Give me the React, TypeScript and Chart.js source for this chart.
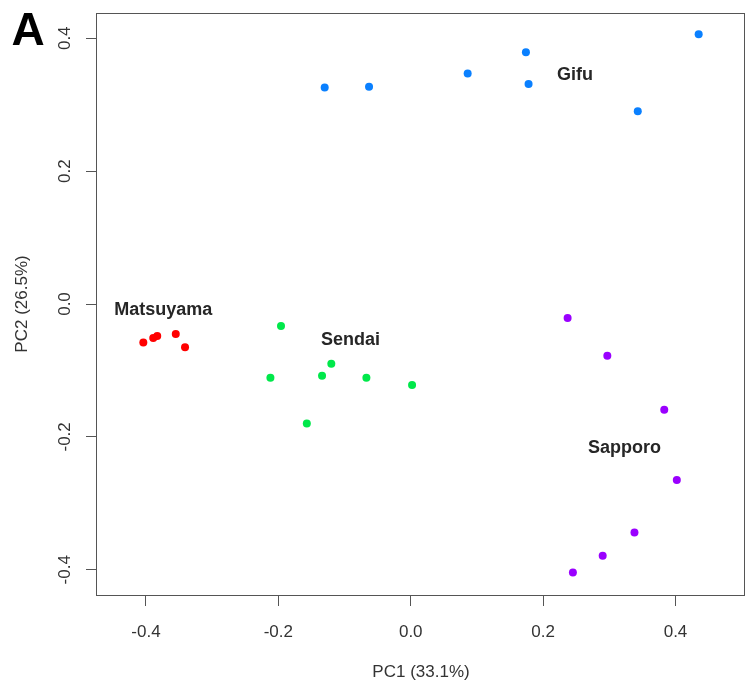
import { useEffect, useRef } from "react";
import { Chart, registerables } from "chart.js";

Chart.register(...registerables);

const groupNames = ["Gifu", "Matsuyama", "Sendai", "Sapporo"];
const groupColors = ["#0a80ff", "#ff0000", "#00e84a", "#9a00ff"];

const gifuX = [-0.130, -0.063, 0.086, 0.174, 0.178, 0.343, 0.435];
const gifuY = [0.326, 0.327, 0.347, 0.379, 0.331, 0.290, 0.406];
const matsuyamaX = [-0.404, -0.389, -0.383, -0.355, -0.341];
const matsuyamaY = [-0.058, -0.051, -0.048, -0.045, -0.065];
const sendaiX = [-0.196, -0.212, -0.157, -0.134, -0.120, -0.067, 0.002];
const sendaiY = [-0.033, -0.111, -0.180, -0.108, -0.090, -0.111, -0.122];
const sapporoX = [0.237, 0.297, 0.383, 0.402, 0.338, 0.290, 0.245];
const sapporoY = [-0.021, -0.078, -0.159, -0.265, -0.344, -0.379, -0.404];

const labelX = [0.248, -0.374, -0.091, 0.323];
const labelY = [0.345, -0.009, -0.054, -0.217];

const xTicks = [-0.4, -0.2, 0.0, 0.2, 0.4];
const yTicks = [-0.4, -0.2, 0.0, 0.2, 0.4];

const xTitle = "PC1 (33.1%)";
const yTitle = "PC2 (26.5%)";
const panelLetter = "A";

const FONT = "'Liberation Sans', Arial, sans-serif";

const seriesX = [gifuX, matsuyamaX, sendaiX, sapporoX];
const seriesY = [gifuY, matsuyamaY, sendaiY, sapporoY];

const boxPlugin = {
  id: "boxAndLabels",
  afterDraw(chart: any) {
    const { ctx, chartArea, scales } = chart;
    ctx.save();
    ctx.strokeStyle = "#555";
    ctx.lineWidth = 1;
    ctx.strokeRect(
      Math.round(chartArea.left) - 0.5,
      Math.round(chartArea.top) + 0.5,
      Math.round(chartArea.right - chartArea.left),
      Math.round(chartArea.bottom - chartArea.top)
    );
    ctx.fillStyle = "#262626";
    ctx.font = `bold 18px ${FONT}`;
    ctx.textAlign = "center";
    ctx.textBaseline = "middle";
    groupNames.forEach((name, i) => {
      ctx.fillText(name, scales.x.getPixelForValue(labelX[i]), scales.y.getPixelForValue(labelY[i]));
    });
    ctx.fillStyle = "#000";
    ctx.font = `bold 46px ${FONT}`;
    ctx.fillText(panelLetter, 28, 32);
    ctx.restore();
  },
};

export default function App() {
  const ref = useRef<HTMLCanvasElement | null>(null);

  useEffect(() => {
    if (!ref.current) return;
    const tickFont = { family: FONT, size: 17 };
    const chart = new Chart(ref.current, {
      type: "scatter",
      data: {
        datasets: groupNames.map((name, i) => ({
          label: name,
          data: seriesX[i].map((x, j) => ({ x, y: seriesY[i][j] })),
          backgroundColor: groupColors[i],
          borderWidth: 0,
          pointRadius: 4,
          pointHoverRadius: 4,
        })),
      },
      options: {
        animation: false,
        responsive: false,
        events: [],
        layout: { autoPadding: false, padding: { top: 13, right: 1, left: 0, bottom: 0 } },
        plugins: { legend: { display: false }, tooltip: { enabled: false } },
        scales: {
          x: {
            type: "linear",
            min: -0.474,
            max: 0.505,
            afterBuildTicks: (s: any) => {
              s.ticks = xTicks.map((v) => ({ value: v }));
            },
            afterFit: (s: any) => {
              s.height = 93;
              s.paddingLeft = 0;
              s.paddingRight = 0;
            },
            grid: { drawOnChartArea: false, color: "#555", tickLength: 11 },
            border: { display: false },
            ticks: {
              padding: 16,
              color: "#333",
              font: tickFont,
              maxRotation: 0,
              autoSkip: false,
              callback: (v: any) => Number(v).toFixed(1),
            },
            title: {
              display: true,
              text: xTitle,
              color: "#333",
              font: tickFont,
              padding: { top: 0, bottom: 5 },
            },
          },
          y: {
            type: "linear",
            min: -0.438,
            max: 0.438,
            afterBuildTicks: (s: any) => {
              s.ticks = yTicks.map((v) => ({ value: v }));
            },
            afterFit: (s: any) => {
              s.width = 97;
              s.paddingTop = 0;
              s.paddingBottom = 0;
            },
            grid: { drawOnChartArea: false, color: "#555", tickLength: 11 },
            border: { display: false },
            ticks: {
              padding: 6,
              color: "#333",
              font: tickFont,
              minRotation: 90,
              maxRotation: 90,
              crossAlign: "center",
              autoSkip: false,
              callback: (v: any) => Number(v).toFixed(1),
            },
            title: {
              display: true,
              text: yTitle,
              color: "#333",
              font: tickFont,
              padding: { top: 12, bottom: 0 },
            },
          },
        },
      },
      plugins: [boxPlugin],
    } as any);
    return () => chart.destroy();
  }, []);

  return (
    <div style={{ position: "fixed", left: 0, top: 0, width: 746, height: 688, background: "#fff" }}>
      <canvas ref={ref} width={746} height={688} style={{ width: 746, height: 688 }} />
    </div>
  );
}
